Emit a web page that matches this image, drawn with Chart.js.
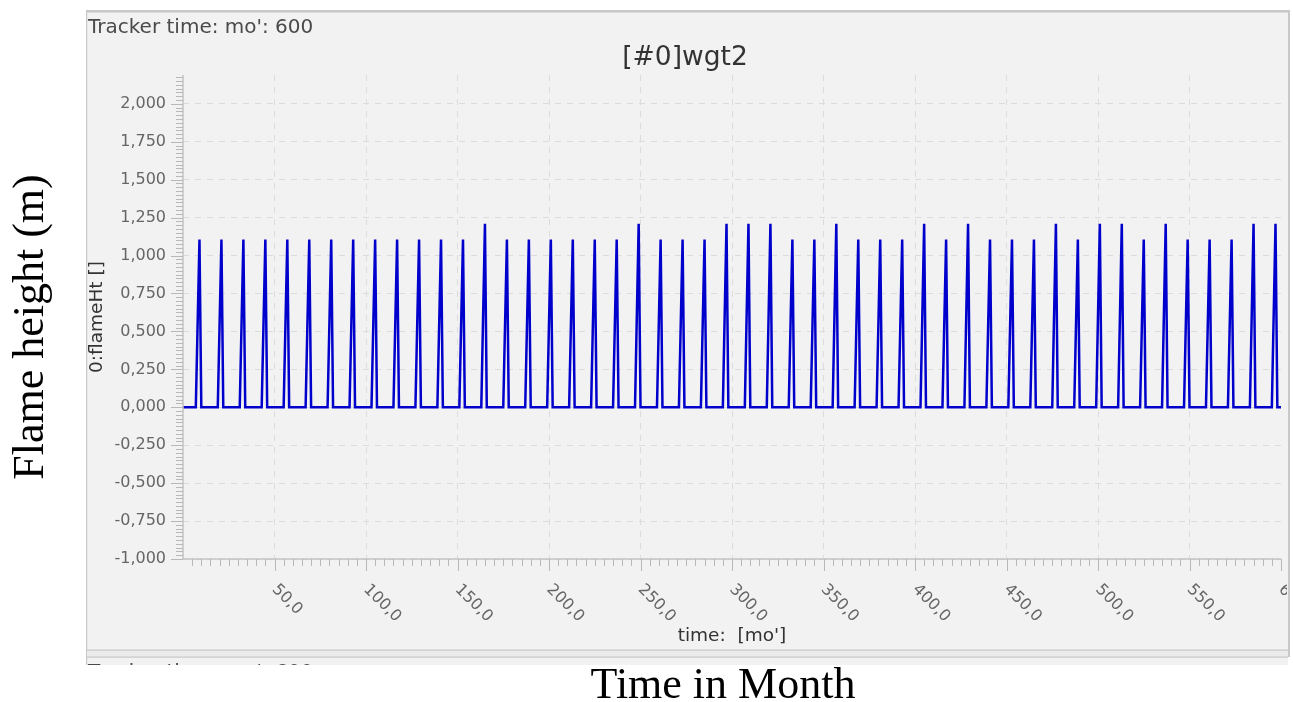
<!DOCTYPE html>
<html>
<head>
<meta charset="utf-8">
<script src="https://cdn.jsdelivr.net/npm/chart.js@4"></script>
<style>
  html, body { margin: 0; padding: 0; background: #fff; }
  canvas { display: block; }
</style>
</head>
<body>
<canvas id="chart" width="1293" height="702"></canvas>
<script>
// fire season spikes, one per year (month index) and their flame heights
const spikeMonths = [9, 21, 33, 45, 57, 69, 81, 93, 105, 117, 129, 141, 153, 165, 177, 189, 201, 213, 225, 237,
    249, 261, 273, 285, 297, 309, 321, 333, 345, 357, 369, 381, 393, 405, 417, 429, 441, 453, 465, 477,
    489, 501, 513, 525, 537, 549, 561, 573, 585, 597];
const spikeHeights = [1.105, 1.105, 1.105, 1.105, 1.105, 1.105, 1.105, 1.105, 1.105, 1.105, 1.105, 1.105, 1.105, 1.21,
    1.105, 1.105, 1.105, 1.105, 1.105, 1.105, 1.21, 1.105, 1.105, 1.105, 1.21, 1.21, 1.21, 1.105, 1.105, 1.21,
    1.105, 1.105, 1.105, 1.21, 1.105, 1.21, 1.105, 1.105, 1.105, 1.21, 1.105, 1.21, 1.21, 1.105, 1.21,
    1.105, 1.105, 1.105, 1.21, 1.21];
const baselineValue = 0;
const timeStart = 0;
const timeEnd = 600;

const yTickValues = [-1, -0.75, -0.5, -0.25, 0, 0.25, 0.5, 0.75, 1, 1.25, 1.5, 1.75, 2];
const xTickValues = [50, 100, 150, 200, 250, 300, 350, 400, 450, 500, 550, 600];
const xGridValues = [50, 100, 150, 200, 250, 300, 350, 400, 450, 500, 550];

const trackerText = "Tracker time: mo': 600";
const chartTitle = "[#0]wgt2";
const yInnerTitle = "0:flameHt []";
const xInnerTitle = "time:  [mo']";
const yOuterTitle = "Flame height (m)";
const xOuterTitle = "Time in Month";

const fmt = (v, d) => v.toFixed(d).replace(".", ",");

// line points: flat baseline, each spike rises to its peak and drops back
const points = [{ x: timeStart, y: baselineValue }];
spikeMonths.forEach((m, i) => {
    points.push({ x: m - 2, y: baselineValue });
    points.push({ x: m, y: spikeHeights[i] });
    points.push({ x: m + 1, y: baselineValue });
});
points.push({ x: timeEnd, y: baselineValue });

const SANS = "'DejaVu Sans', sans-serif";
const SERIF = "'Liberation Serif', 'DejaVu Serif', serif";

const panelPlugin = {
    id: "panel",
    beforeDraw(chart) {
        const ctx = chart.ctx;
        ctx.save();
        ctx.fillStyle = "#ffffff";
        ctx.fillRect(0, 0, chart.width, chart.height);
        // grey frame of the plot window
        ctx.fillStyle = "#f2f2f2";
        ctx.fillRect(86, 10, 1202, 655);
        ctx.fillStyle = "#c8c8c8";
        ctx.fillRect(86, 10, 1204, 2.5);
        ctx.fillRect(86, 10, 1.2, 655);
        ctx.fillRect(1288, 10, 2, 647);
        ctx.fillStyle = "#ebebeb";
        ctx.fillRect(87, 650, 1201, 7);
        ctx.fillStyle = "#c8c8c8";
        ctx.fillRect(86, 649.5, 1202, 1.2);
        ctx.fillRect(86, 656.5, 1202, 1.2);

        ctx.fillStyle = "#4a4a4a";
        ctx.font = "20px " + SANS;
        ctx.textAlign = "left";
        ctx.textBaseline = "alphabetic";
        ctx.fillText(trackerText, 88, 33);
        // second window peeking out below, cut by the page edge
        ctx.beginPath();
        ctx.rect(86, 657, 1202, 8);
        ctx.clip();
        ctx.fillText(trackerText, 88, 678);
        ctx.restore();
    },
    afterDatasetsDraw(chart) {
        const ctx = chart.ctx;
        const xs = chart.scales.x;
        const ys = chart.scales.y;
        const a = chart.chartArea;
        ctx.save();
        // axis lines
        ctx.strokeStyle = "#c4c4c4";
        ctx.lineWidth = 1.5;
        ctx.beginPath();
        ctx.moveTo(a.left, 75);
        ctx.lineTo(a.left, a.bottom);
        ctx.lineTo(a.right, a.bottom);
        ctx.stroke();
        // major and minor ticks
        ctx.strokeStyle = "#b8b8b8";
        ctx.lineWidth = 1;
        ctx.beginPath();
        for (let i = -40; i <= 87; i++) {
            const py = Math.round(ys.getPixelForValue(i * 0.025)) + 0.5;
            const len = i % 10 === 0 ? 12 : 7;
            ctx.moveTo(a.left - len, py);
            ctx.lineTo(a.left, py);
        }
        for (let i = 1; i <= 120; i++) {
            const px = Math.round(xs.getPixelForValue(i * 5)) + 0.5;
            const len = i % 10 === 0 ? 12 : 7;
            ctx.moveTo(px, a.bottom);
            ctx.lineTo(px, a.bottom + len);
        }
        ctx.stroke();
        ctx.restore();
    },
    afterDraw(chart) {
        const ctx = chart.ctx;
        const xs = chart.scales.x;
        const a = chart.chartArea;
        ctx.save();
        ctx.beginPath();
        ctx.rect(86, 10, 1201, 640);
        ctx.clip();

        // rotated x tick labels, reading downwards from the tick
        ctx.fillStyle = "#666666";
        ctx.font = "16px " + SANS;
        ctx.textAlign = "left";
        ctx.textBaseline = "middle";
        xTickValues.forEach((v) => {
            const px = xs.getPixelForValue(v);
            ctx.save();
            ctx.translate(px, a.bottom + 28);
            ctx.rotate(Math.PI / 4);
            ctx.fillText(fmt(v, 1), 0, 0);
            ctx.restore();
        });

        ctx.fillStyle = "#333333";
        ctx.textAlign = "center";
        ctx.font = "26.5px " + SANS;
        ctx.fillText(chartTitle, 685, 58);

        ctx.font = "18.5px " + SANS;
        ctx.fillText(xInnerTitle, (a.left + a.right) / 2, 636);
        ctx.save();
        ctx.translate(97, (a.top + a.bottom) / 2);
        ctx.rotate(-Math.PI / 2);
        ctx.fillText(yInnerTitle, 0, 0);
        ctx.restore();
        ctx.restore();

        // paper labels outside the window
        ctx.save();
        ctx.fillStyle = "#000000";
        ctx.font = "44px " + SERIF;
        ctx.textAlign = "center";
        ctx.textBaseline = "middle";
        ctx.fillText(xOuterTitle, 723, 686);
        ctx.translate(31, 327);
        ctx.rotate(-Math.PI / 2);
        ctx.fillText(yOuterTitle, 0, 0);
        ctx.restore();
    },
};

new Chart(document.getElementById("chart"), {
    type: "line",
    data: {
        datasets: [
            {
                data: points,
                borderColor: "rgb(0,0,204)",
                borderWidth: 2.5,
                pointRadius: 0,
                tension: 0,
                fill: false,
            },
        ],
    },
    options: {
        responsive: false,
        animation: false,
        devicePixelRatio: 1,
        layout: { padding: { top: 75, bottom: 143, left: 0, right: 12 } },
        plugins: {
            legend: { display: false },
            title: { display: false },
            tooltip: { enabled: false },
        },
        scales: {
            x: {
                type: "linear",
                min: timeStart,
                max: timeEnd,
                afterBuildTicks: (scale) => {
                    scale.ticks = xGridValues.map((v) => ({ value: v }));
                },
                afterFit: (scale) => {
                    scale.height = 0;
                },
                ticks: { display: false },
                grid: { color: "#dcdcdc", lineWidth: 1, drawTicks: false },
                border: { display: false, dash: [6, 6] },
            },
            y: {
                type: "linear",
                min: -1,
                max: 2.19,
                afterBuildTicks: (scale) => {
                    scale.ticks = yTickValues.map((v) => ({ value: v }));
                },
                afterFit: (scale) => {
                    scale.width = 183;
                },
                ticks: {
                    color: "#666666",
                    padding: 17,
                    font: { family: "DejaVu Sans", size: 16 },
                    callback: (v) => fmt(v, 3),
                },
                grid: { color: "#dcdcdc", lineWidth: 1, drawTicks: false },
                border: { display: false, dash: [6, 6] },
            },
        },
    },
    plugins: [panelPlugin],
});
</script>
</body>
</html>
